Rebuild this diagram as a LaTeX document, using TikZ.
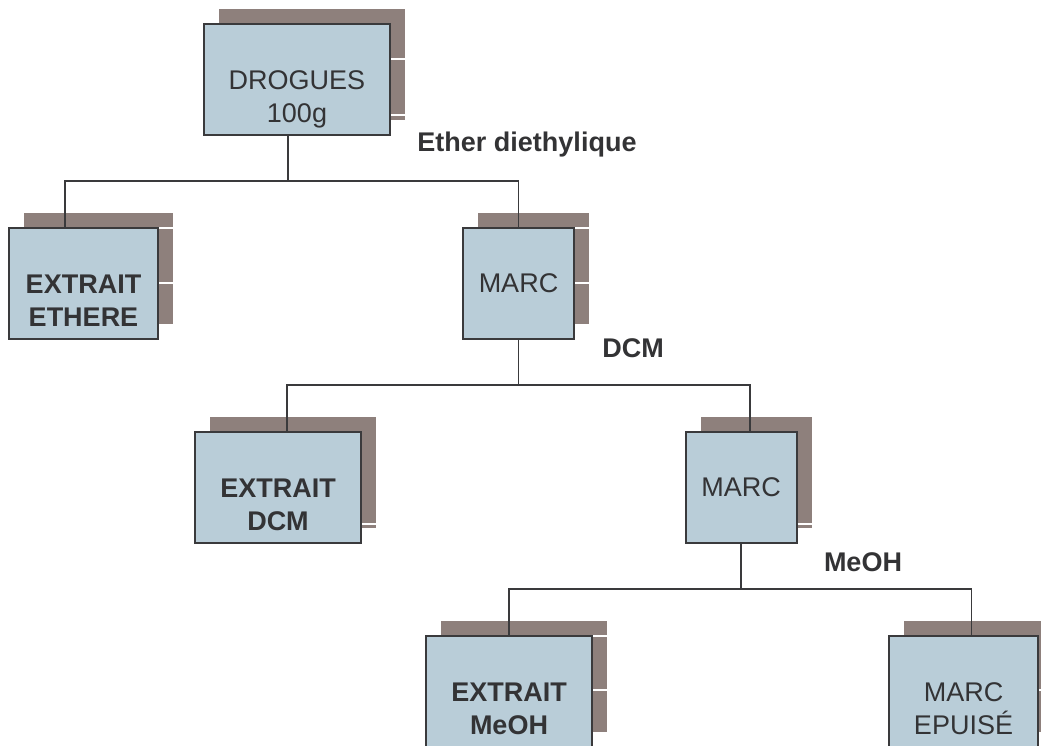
\documentclass[tikz,border=0pt]{standalone}
\usepackage{fontspec}
\setmainfont{Liberation Sans}
\usetikzlibrary{shadows}
\definecolor{boxfill}{RGB}{185,205,216}
\definecolor{shadowfill}{RGB}{142,128,124}
\definecolor{linegray}{RGB}{58,58,60}
\definecolor{textgray}{RGB}{51,51,53}
\begin{document}
\begin{tikzpicture}[
    x=1pt, y=-1pt, font=\fontsize{27}{33}\selectfont, text=textgray,
    box/.style  ={rectangle, draw=linegray, line width=2pt, fill=boxfill, minimum height=111pt, inner sep=0pt, outer sep=0pt, align=center,
                  general shadow={shadow xshift=15pt, shadow yshift=15pt, fill=shadowfill}},
    twoline/.style={text height=90pt, text depth=4.6pt},
    conn/.style ={draw=linegray, line width=1.6pt},
    sline/.style={draw=white, line width=1.2pt},
    lbl/.style  ={font=\fontsize{27}{33}\selectfont\bfseries, inner sep=0pt},
]
\path[use as bounding box, clip] (0,0) rectangle (1041,745);
\node[box, twoline, minimum width=186pt] (drog)    at (297,79.5)   {DROGUES\\100g};
\node[box, twoline, minimum width=149pt] (ether)   at (83.5,283.5) {\bfseries EXTRAIT\\\bfseries ETHERE};
\node[box, minimum width=111pt]          (marcA)   at (518.5,283.5) {MARC};
\node[box, twoline, minimum width=166pt] (extdcm)  at (278,487.5)  {\bfseries EXTRAIT\\\bfseries DCM};
\node[box, minimum width=111pt]          (marcB)   at (741,487.5)  {MARC};
\node[box, twoline, minimum width=166pt] (extmeoh) at (509,691.5)  {\bfseries EXTRAIT\\\bfseries MeOH};
\node[box, twoline, minimum width=149pt] (epuise)  at (963.5,691.5) {MARC\\EPUIS\'E};
% breaks in the shadows
\foreach \n/\dy in {drog/35, drog/91, ether/0, ether/55, marcA/0, marcA/55, extdcm/92, marcB/92, extmeoh/0, extmeoh/54, epuise/54}
    \draw[sline] ([xshift=1pt]\n.north east) ++(0,\dy) -- ++(14,0);
\node[lbl] (lblether) at (527,145) {Ether diethylique};
\node[lbl] (lbldcm)   at (633,348) {DCM};
\node[lbl] (lblmeoh)  at (863,562) {MeOH};
\draw[conn] ([xshift=-9pt]drog.south) -- ++(0,46) coordinate (bus1);
\draw[conn] ([xshift=-18.5pt]ether.north) |- (bus1) -| (marcA.north);
\draw[conn] (marcA.south) -- ++(0,46) coordinate (bus2);
\draw[conn] ([xshift=9pt]extdcm.north) |- (bus2) -| ([xshift=9pt]marcB.north);
\draw[conn] (marcB.south) -- ++(0,46) coordinate (bus3);
\draw[conn] (extmeoh.north) |- (bus3) -| ([xshift=8pt]epuise.north);
\end{tikzpicture}
\end{document}
